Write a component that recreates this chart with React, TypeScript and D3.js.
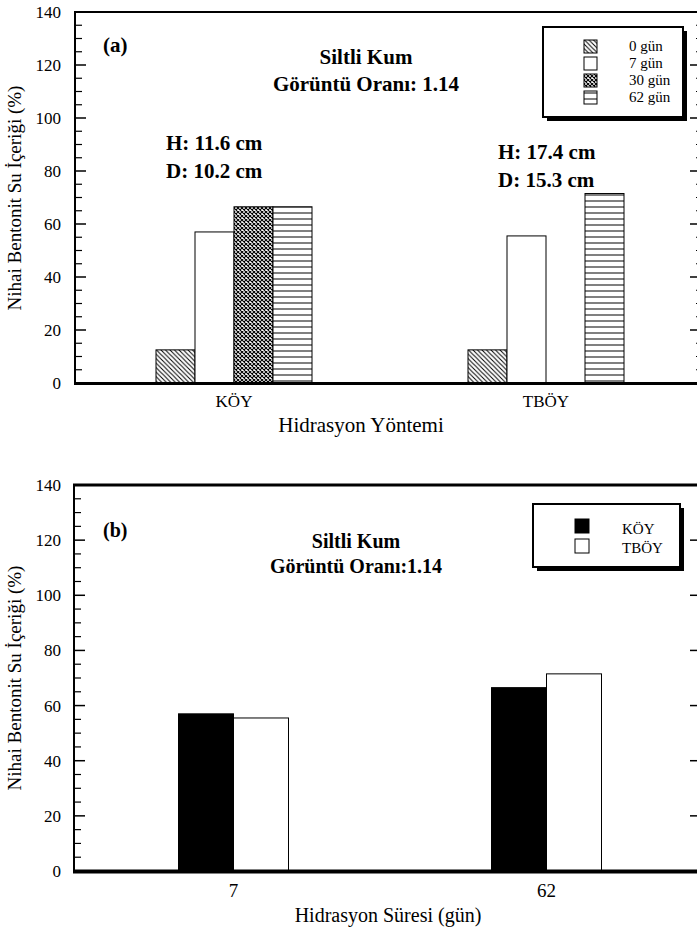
import * as d3 from "d3";

// panel (a)
const methods = ["KÖY", "TBÖY"];
const durations = ["0 gün", "7 gün", "30 gün", "62 gün"];
const day0 = [12.5, 12.5];
const day7 = [57, 55.5];
const day30: (number | null)[] = [66.5, null];
const day62 = [66.5, 71.5];

// panel (b)
const daysB = ["7", "62"];
const methodsB = ["KÖY", "TBÖY"];
const koyB = [57, 66.5];
const tboyB = [55.5, 71.5];

const yTicks = [0, 20, 40, 60, 80, 100, 120, 140];

const FONT = "'Liberation Serif', 'Times New Roman', serif";

const fillsA = ["url(#hatch)", "#fff", "url(#cross)", "url(#horiz)"];
const fillsB = ["#000", "#fff"];

type PanelProps = {
  top: number;
  bottom: number;
  left: number;
  right: number;
  rightMinor: boolean;
  bottomWidth: number;
  topWidth: number;
};

const Frame = ({ top, bottom, left, right, rightMinor, bottomWidth, topWidth }: PanelProps) => {
  const y = d3.scaleLinear().domain([0, 140]).range([bottom, top]);
  const minors = d3.range(0, 141, 5).filter((d) => d % 20 !== 0);
  return (
    <g>
      {/* left axis */}
      <line x1={left} x2={left} y1={top} y2={bottom} stroke="#000" strokeWidth={2} />
      {yTicks.map((t) => (
        <g key={"l" + t}>
          <line x1={left} x2={left + 11} y1={y(t)} y2={y(t)} stroke="#000" strokeWidth={1.5} />
          <text x={61} y={y(t) + 6} textAnchor="end" fontSize={17} fontFamily={FONT}>
            {t}
          </text>
        </g>
      ))}
      {minors.map((t) => (
        <line key={"m" + t} x1={left} x2={left + 7} y1={y(t)} y2={y(t)} stroke="#000" strokeWidth={1.2} />
      ))}
      {/* right axis ticks, axis itself is off the page */}
      {yTicks.map((t) => (
        <line key={"r" + t} x1={right - 10} x2={right} y1={y(t)} y2={y(t)} stroke="#000" strokeWidth={1.5} />
      ))}
      {rightMinor &&
        minors.map((t) => (
          <line key={"rm" + t} x1={right - 4} x2={right} y1={y(t)} y2={y(t)} stroke="#000" strokeWidth={1.2} />
        ))}
      <line x1={right} x2={right} y1={top} y2={bottom} stroke="#000" strokeWidth={2} />
      <line x1={left - 1} x2={right} y1={top} y2={top} stroke="#000" strokeWidth={topWidth} />
      <line x1={left - 1} x2={right} y1={bottom + 0.5} y2={bottom + 0.5} stroke="#000" strokeWidth={bottomWidth} />
    </g>
  );
};

const YTitle = ({ cy }: { cy: number }) => (
  <text
    transform={`translate(21,${cy}) rotate(-90)`}
    textAnchor="middle"
    fontSize={19}
    fontFamily={FONT}
  >
    Nihai Bentonit Su İçeriği (%)
  </text>
);

const PanelA = () => {
  const top = 12;
  const bottom = 383;
  const y = d3.scaleLinear().domain([0, 140]).range([bottom, top]);
  const x = d3.scaleBand().domain(methods).range([78, 702]);
  const inner = d3.scaleBand().domain(durations).range([-78, 78]);
  const series = [day0, day7, day30, day62];
  return (
    <g>
      {methods.map((m, i) => (
        <g key={m} transform={`translate(${x(m)! + x.bandwidth() / 2},0)`}>
          {durations.map((dname, j) => {
            const v = series[j][i];
            if (v == null) return null;
            return (
              <rect
                key={dname}
                x={inner(dname)!}
                y={y(v)}
                width={inner.bandwidth()}
                height={y(0) - y(v)}
                fill={fillsA[j]}
                stroke="#000"
                strokeWidth={1}
              />
            );
          })}
          <text y={407} textAnchor="middle" fontSize={17} fontFamily={FONT}>
            {m}
          </text>
        </g>
      ))}
      <Frame top={top} bottom={bottom} left={75} right={700} rightMinor={true} bottomWidth={3} topWidth={2} />
      <text x={361} y={432} textAnchor="middle" fontSize={21} fontFamily={FONT}>
        Hidrasyon Yöntemi
      </text>
      <YTitle cy={198} />
      <g fontFamily={FONT} fontWeight="bold" fontSize={21}>
        <text x={103} y={52}>(a)</text>
        <text x={366} y={64} textAnchor="middle">Siltli Kum</text>
        <text x={366} y={91} textAnchor="middle">Görüntü Oranı: 1.14</text>
        <text x={166} y={150}>H: 11.6 cm</text>
        <text x={166} y={178}>D: 10.2 cm</text>
        <text x={498} y={159}>H: 17.4 cm</text>
        <text x={498} y={187}>D: 15.3 cm</text>
      </g>
      {/* legend */}
      <rect x={547} y={31} width={140} height={90} fill="#000" />
      <rect x={543} y={27} width={140} height={90} fill="#fff" stroke="#000" strokeWidth={2} />
      {durations.map((dname, j) => (
        <g key={dname}>
          <rect x={584} y={40 + j * 17} width={13} height={13} fill={fillsA[j]} stroke="#000" strokeWidth={1} />
          <text x={629} y={51 + j * 17} fontSize={15} fontFamily={FONT}>
            {dname}
          </text>
        </g>
      ))}
    </g>
  );
};

const PanelB = () => {
  const top = 485;
  const bottom = 871;
  const y = d3.scaleLinear().domain([0, 140]).range([bottom, top]);
  const x = d3.scaleBand().domain(daysB).range([77, 703]);
  const inner = d3.scaleBand().domain(methodsB).range([-55, 55]);
  const series = [koyB, tboyB];
  return (
    <g>
      {daysB.map((d, i) => (
        <g key={d} transform={`translate(${x(d)! + x.bandwidth() / 2},0)`}>
          {methodsB.map((m, j) => (
            <rect
              key={m}
              x={inner(m)!}
              y={y(series[j][i])}
              width={inner.bandwidth()}
              height={y(0) - y(series[j][i])}
              fill={fillsB[j]}
              stroke="#000"
              strokeWidth={1}
            />
          ))}
          <text y={897} textAnchor="middle" fontSize={19} fontFamily={FONT}>
            {d}
          </text>
        </g>
      ))}
      <Frame top={top} bottom={bottom} left={74} right={700} rightMinor={false} bottomWidth={4} topWidth={3} />
      <text x={388} y={922} textAnchor="middle" fontSize={20} fontFamily={FONT}>
        Hidrasyon Süresi (gün)
      </text>
      <YTitle cy={678} />
      <g fontFamily={FONT} fontWeight="bold" fontSize={20}>
        <text x={103} y={537}>(b)</text>
        <text x={356} y={548} textAnchor="middle">Siltli Kum</text>
        <text x={356} y={573} textAnchor="middle">Görüntü Oranı:1.14</text>
      </g>
      <rect x={537} y={508} width={147} height={63} fill="#000" />
      <rect x={533} y={504} width={147} height={63} fill="#fff" stroke="#000" strokeWidth={2} />
      {methodsB.map((m, j) => (
        <g key={m}>
          <rect x={575} y={519 + j * 20} width={14} height={14} fill={fillsB[j]} stroke="#000" strokeWidth={1} />
          <text x={622} y={534 + j * 19} fontSize={15} fontFamily={FONT}>
            {m}
          </text>
        </g>
      ))}
    </g>
  );
};

export default function App() {
  return (
    <svg
      width={697}
      height={929}
      style={{ position: "absolute", left: 0, top: 0, background: "#fff" }}
    >
      <defs>
        <pattern id="hatch" patternUnits="userSpaceOnUse" width={4.5} height={4.5}>
          <rect width={4.5} height={4.5} fill="#fff" />
          <path d="M0,0L4.5,4.5M-1,3.5L1,5.5M3.5,-1L5.5,1" stroke="#000" strokeWidth={1} />
        </pattern>
        <pattern id="cross" patternUnits="userSpaceOnUse" width={4} height={4}>
          <rect width={4} height={4} fill="#fff" />
          <path d="M0,0L4,4M4,0L0,4" stroke="#000" strokeWidth={1.1} />
        </pattern>
        <pattern id="horiz" patternUnits="userSpaceOnUse" width={6} height={6}>
          <rect width={6} height={6} fill="#fff" />
          <rect y={2} width={6} height={2} fill="#808080" />
        </pattern>
      </defs>
      <PanelA />
      <PanelB />
    </svg>
  );
}
